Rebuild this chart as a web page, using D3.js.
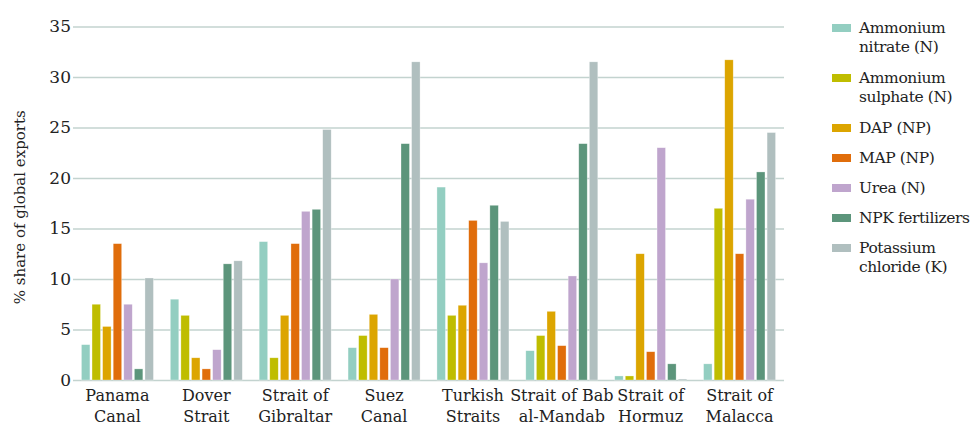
<!DOCTYPE html>
<meta charset="utf-8">
<style>
body { margin: 0; background: #fff; }
svg { display: block; }
text { font-family: "DejaVu Serif", serif; fill: #222; }
.grid line { stroke: #c3d3cf; stroke-width: 1.3px; }
.grid path { display: none; }
</style>
<svg width="974" height="427"></svg>
<script src="https://cdn.jsdelivr.net/npm/d3@7"></script>
<script>

// categories (two-line labels) and the series, in legend order
var routes = [
  ["Panama", "Canal"],
  ["Dover", "Strait"],
  ["Strait of", "Gibraltar"],
  ["Suez", "Canal"],
  ["Turkish", "Straits"],
  ["Strait of Bab", "al-Mandab"],
  ["Strait of", "Hormuz"],
  ["Strait of", "Malacca"]
];

var products = [
  ["Ammonium", "nitrate (N)"],
  ["Ammonium", "sulphate (N)"],
  ["DAP (NP)"],
  ["MAP (NP)"],
  ["Urea (N)"],
  ["NPK fertilizers"],
  ["Potassium", "chloride (K)"]
];

var colors = ["#93cec1", "#bfbd00", "#dca500", "#e06d0b", "#bfa5cd", "#5c957b", "#b0bfbf"];

// % share of global exports, one array per product, in route order
var ammoniumNitrate  = [3.5, 8.0, 13.7, 3.2, 19.1, 2.9, 0.4, 1.6];
var ammoniumSulphate = [7.5, 6.4, 2.2, 4.4, 6.4, 4.4, 0.4, 17.0];
var dap              = [5.3, 2.2, 6.4, 6.5, 7.4, 6.8, 12.5, 31.7];
var map              = [13.5, 1.1, 13.5, 3.2, 15.8, 3.4, 2.8, 12.5];
var urea             = [7.5, 3.0, 16.7, 10.0, 11.6, 10.3, 23.0, 17.9];
var npk              = [1.1, 11.5, 16.9, 23.4, 17.3, 23.4, 1.6, 20.6];
var potassium        = [10.1, 11.8, 24.8, 31.5, 15.7, 31.5, 0.1, 24.5];

var series = [ammoniumNitrate, ammoniumSulphate, dap, map, urea, npk, potassium];

var yTicks = [0, 5, 10, 15, 20, 25, 30, 35];

var svg = d3.select("svg"),
    margin = {top: 26.5, right: 190, bottom: 47, left: 73},
    width = +svg.attr("width") - margin.left - margin.right,
    height = +svg.attr("height") - margin.top - margin.bottom,
    g = svg.append("g").attr("transform", "translate(" + margin.left + "," + margin.top + ")");

var x0 = d3.scaleBand()
    .domain(d3.range(routes.length))
    .range([0, width])
    .paddingInner(0.19)
    .paddingOuter(0.095);

var x1 = d3.scaleBand()
    .domain(d3.range(products.length))
    .range([0, x0.bandwidth()])
    .paddingInner(0.2);

var y = d3.scaleLinear().domain([0, 35]).range([height, 0]);

// gridlines
g.append("g")
    .attr("class", "grid")
    .call(d3.axisLeft(y).tickValues(yTicks).tickSize(-width).tickFormat(""));

// tick labels
g.selectAll(".ylab")
  .data(yTicks)
  .enter().append("text")
    .attr("class", "ylab")
    .attr("x", -2)
    .attr("y", function(d) { return y(d); })
    .attr("dy", "0.35em")
    .attr("text-anchor", "end")
    .style("font-size", "17px")
    .text(function(d) { return d; });

// axis title
svg.append("text")
    .attr("transform", "translate(25," + (margin.top + y(17.5) + 4) + ") rotate(-90)")
    .attr("text-anchor", "middle")
    .style("font-size", "15px")
    .text("% share of global exports");

// bars
var group = g.selectAll(".route")
  .data(routes)
  .enter().append("g")
    .attr("class", "route")
    .attr("transform", function(d, i) { return "translate(" + x0(i) + ",0)"; });

group.selectAll("rect")
  .data(function(d, i) { return series.map(function(s, j) { return {k: j, v: s[i]}; }); })
  .enter().append("rect")
    .attr("x", function(d) { return x1(d.k); })
    .attr("y", function(d) { return y(d.v); })
    .attr("width", x1.bandwidth())
    .attr("height", function(d) { return y(0) - y(d.v); })
    .attr("fill", function(d) { return colors[d.k]; })
    .attr("stroke", "#fff")
    .attr("stroke-opacity", 0.5)
    .attr("stroke-width", 0.6);

// category labels
group.append("text")
    .attr("x", x0.bandwidth() / 2)
    .attr("y", height + 21)
    .attr("text-anchor", "middle")
    .style("font-size", "16px")
    .selectAll("tspan")
    .data(function(d) { return d; })
    .enter().append("tspan")
      .attr("x", x0.bandwidth() / 2)
      .attr("dy", function(d, i) { return i ? 21 : 0; })
      .text(function(d) { return d; });

// legend
var rowY = [28, 78, 128, 158, 188, 218, 248];
var legend = svg.append("g").attr("transform", "translate(832,0)");

var item = legend.selectAll(".item")
  .data(products)
  .enter().append("g")
    .attr("class", "item")
    .attr("transform", function(d, i) { return "translate(0," + rowY[i] + ")"; });

item.append("rect")
    .attr("y", -4)
    .attr("width", 19)
    .attr("height", 8)
    .attr("fill", function(d, i) { return colors[i]; });

item.append("text")
    .attr("x", 27)
    .attr("dy", "0.35em")
    .style("font-size", "15.5px")
    .style("letter-spacing", "-0.4px")
    .selectAll("tspan")
    .data(function(d) { return d; })
    .enter().append("tspan")
      .attr("x", 27)
      .attr("dy", function(d, i) { return i ? 19 : "0.35em"; })
      .text(function(d) { return d; });

</script>
